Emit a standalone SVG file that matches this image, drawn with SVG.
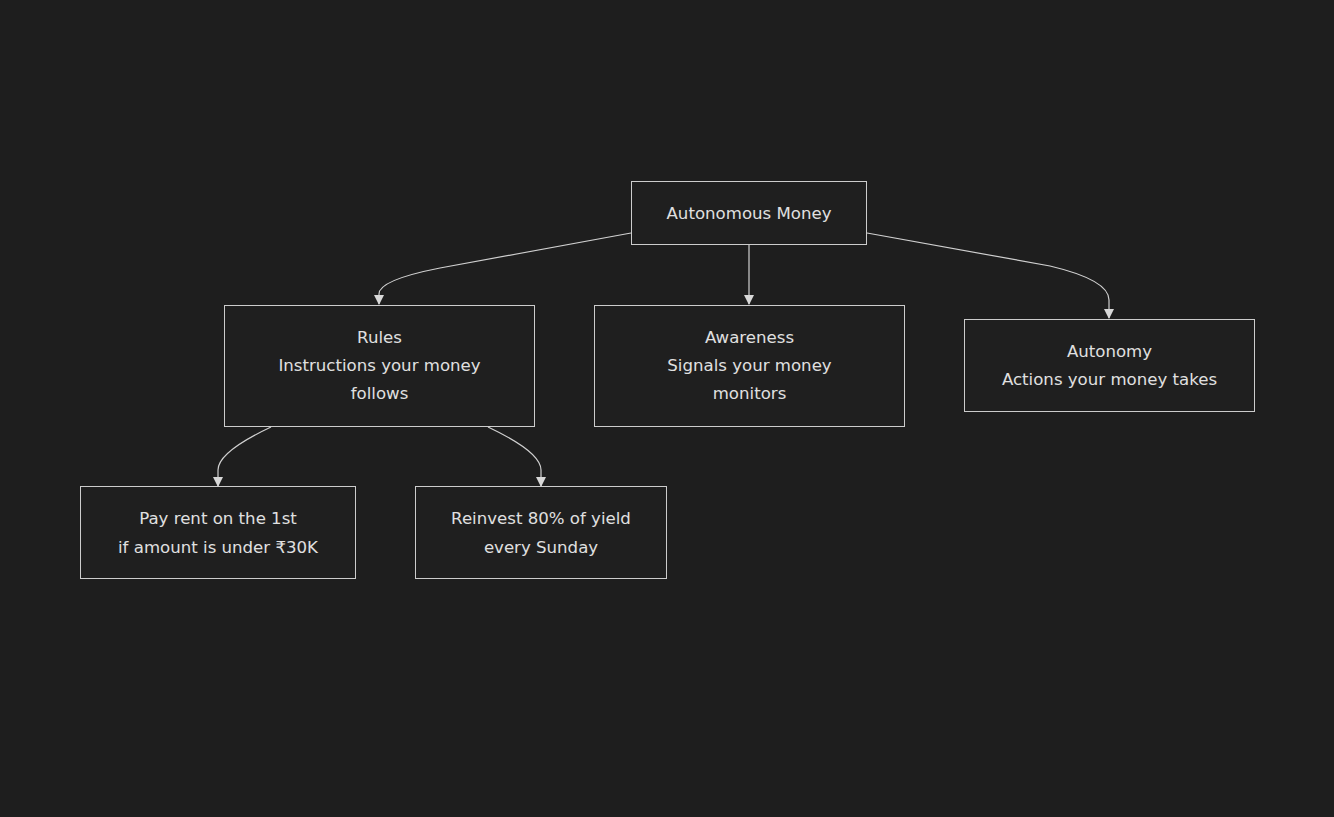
<svg xmlns="http://www.w3.org/2000/svg" width="1334" height="817" viewBox="0 0 1334 817">
<style>
.bg{fill:#1e1e1e}
.node rect{fill:#1f1f1f;stroke:#cccccc;stroke-width:1}
.node text{fill:#e0e0e0;font-family:"DejaVu Sans","Noto Sans",sans-serif;font-size:16.6px;text-anchor:middle;dominant-baseline:central}
.edge{fill:none;stroke:#d0d0d0;stroke-width:1.2;marker-end:url(#arr)}
</style>
<defs>
<marker id="arr" viewBox="0 0 10 10" refX="9" refY="5" markerWidth="10" markerHeight="10" markerUnits="userSpaceOnUse" orient="auto">
<path d="M0,0 L10,5 L0,10 z" fill="#d8d8d8"/>
</marker>
</defs>
<rect class="bg" x="0" y="0" width="1334" height="817"/>
<g id="connectors">
<path class="edge" d="M631,233 L440,268 Q379,280 379,294 L379,304"/>
<path class="edge" d="M749,244 L749,304"/>
<path class="edge" d="M867,233 L1050,266 Q1109,280 1109,300 L1109,318"/>
<path class="edge" d="M271,427 Q218,452 218,470 L218,486"/>
<path class="edge" d="M488,427 Q541,452 541,470 L541,486"/>
</g>
<g id="root" class="node">
<rect x="631.5" y="181.5" width="235" height="63"/>
<text x="749" y="213">Autonomous Money</text>
</g>
<g id="rules" class="node">
<rect x="224.5" y="305.5" width="310" height="121"/>
<text x="379.5" y="337">Rules</text>
<text x="379.5" y="365">Instructions your money</text>
<text x="379.5" y="393">follows</text>
</g>
<g id="awareness" class="node">
<rect x="594.5" y="305.5" width="310" height="121"/>
<text x="749.5" y="337">Awareness</text>
<text x="749.5" y="365">Signals your money</text>
<text x="749.5" y="393">monitors</text>
</g>
<g id="autonomy" class="node">
<rect x="964.5" y="319.5" width="290" height="92"/>
<text x="1109.5" y="351">Autonomy</text>
<text x="1109.5" y="379">Actions your money takes</text>
</g>
<g id="payrent" class="node">
<rect x="80.5" y="486.5" width="275" height="92"/>
<text x="218" y="518">Pay rent on the 1st</text>
<text x="218" y="547">if amount is under ₹30K</text>
</g>
<g id="reinvest" class="node">
<rect x="415.5" y="486.5" width="251" height="92"/>
<text x="541" y="518">Reinvest 80% of yield</text>
<text x="541" y="547">every Sunday</text>
</g>
</svg>
